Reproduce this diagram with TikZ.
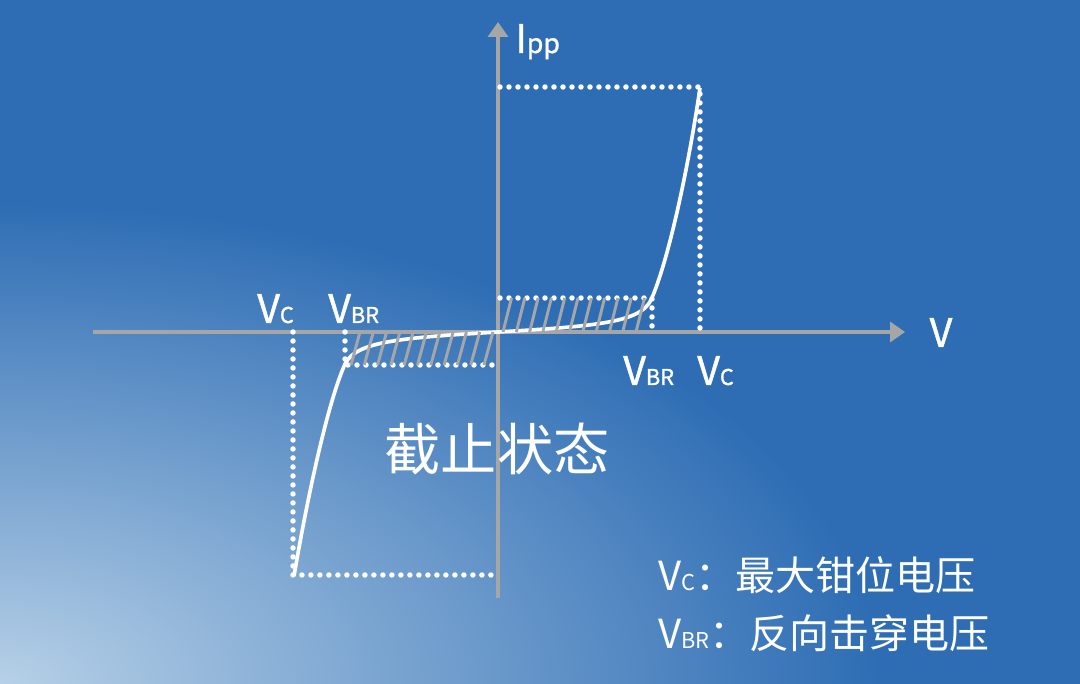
\documentclass[tikz,border=0pt]{standalone}
\usepackage{fontspec}
\setmainfont{Noto Sans CJK SC}
\newfontfamily\gruesa[FakeBold=1.2]{Noto Sans CJK SC}
\usetikzlibrary{arrows.meta}
\definecolor{fondo}{HTML}{2E6DB4}
\definecolor{brillo}{HTML}{B6D0E7}
\definecolor{gris}{HTML}{A6A6A6}
\tikzset{
  eje/.style={draw=gris, line width=2.4pt, -{Triangle[length=10.5pt, width=14pt]}},
  punteado/.style={white, line width=3.9pt, line cap=round, dash pattern=on 0pt off 6.4pt},
  curva/.style={white, line width=2.6pt},
  rayado/.style={gris, line width=2.1pt},
  etiqueta/.style={white, inner sep=0pt, font=\gruesa\fontsize{28}{30}\selectfont},
  leyenda/.style={white, inner sep=0pt, anchor=base west, font=\fontsize{28.5}{31}\selectfont}
}
\newcommand{\chico}[1]{{\fontsize{15.5}{17}\selectfont #1}}
\begin{document}
\begin{tikzpicture}[x=0.25mm, y=-0.25mm]
% Fondo azul con brillo abajo a la izquierda
\useasboundingbox (0,0) rectangle (1080,684);
\fill[fondo] (0,0) rectangle (1080,684);
\begin{scope}
\clip (0,0) rectangle (1080,684);
\shade[inner color=brillo, outer color=fondo] (0,684) ellipse [x radius=880, y radius=480];
\end{scope}

% Puntos importantes
\coordinate (O) at (498,332);
\coordinate (izq) at (93,332);
\coordinate (der) at (905,332);
\coordinate (abajo) at (498,598);
\coordinate (arriba) at (498,22);

% Ejes
\draw[eje] (izq) -- (der);
\draw[eje] (abajo) -- (arriba);

% Rectángulos punteados
\draw[punteado] (500,87) -| (700,332);
\draw[punteado] (500,298) -| (652,332);
\draw[punteado] (293,332) |- (498,575);
\draw[punteado] (345,332) |- (498,365);

% La curva característica
\draw[curva] (294,576) .. controls (308,494) and (328,402) .. (345,364)
  .. controls (356,342) and (396,338) .. (O)
  .. controls (600,326) and (640,322) .. (651,300)
  .. controls (668,262) and (688,170) .. (700,88);

% Rayado de la zona de corte
\foreach \i in {0,...,10}
  \draw[rayado] ({351+13.3*\i},365) -- ++(9,-33);
\foreach \i in {0,...,10}
  \draw[rayado] ({503+13.3*\i},332) -- ++(8.5,-34);

% Nombres de los ejes
\node[etiqueta, anchor=base west] (ipp) at (515,53) {I{\fontsize{19}{21}\selectfont pp}};
\node[etiqueta, anchor=base] (v) at (941,347) {V};

% Tensiones sobre el eje
\node[etiqueta, anchor=base west] (vcizq) at (257,323) {V\chico{C}};
\node[etiqueta, anchor=base west] (vbrizq) at (328,323) {V\chico{BR}};
\node[etiqueta, anchor=base west] (vbrder) at (623,385) {V\chico{BR}};
\node[etiqueta, anchor=base west] (vcder) at (697,385) {V\chico{C}};

% Estado
\node[white, inner sep=0pt, font=\fontsize{40}{44}\selectfont] (estado) at (497,449) {截止状态};

% Leyenda
\node[leyenda] (ley1) at (658,590) {V\chico{C}：最大钳位电压};
\node[leyenda] (ley2) at (658,648) {V\chico{BR}：反向击穿电压};
\end{tikzpicture}
\end{document}
